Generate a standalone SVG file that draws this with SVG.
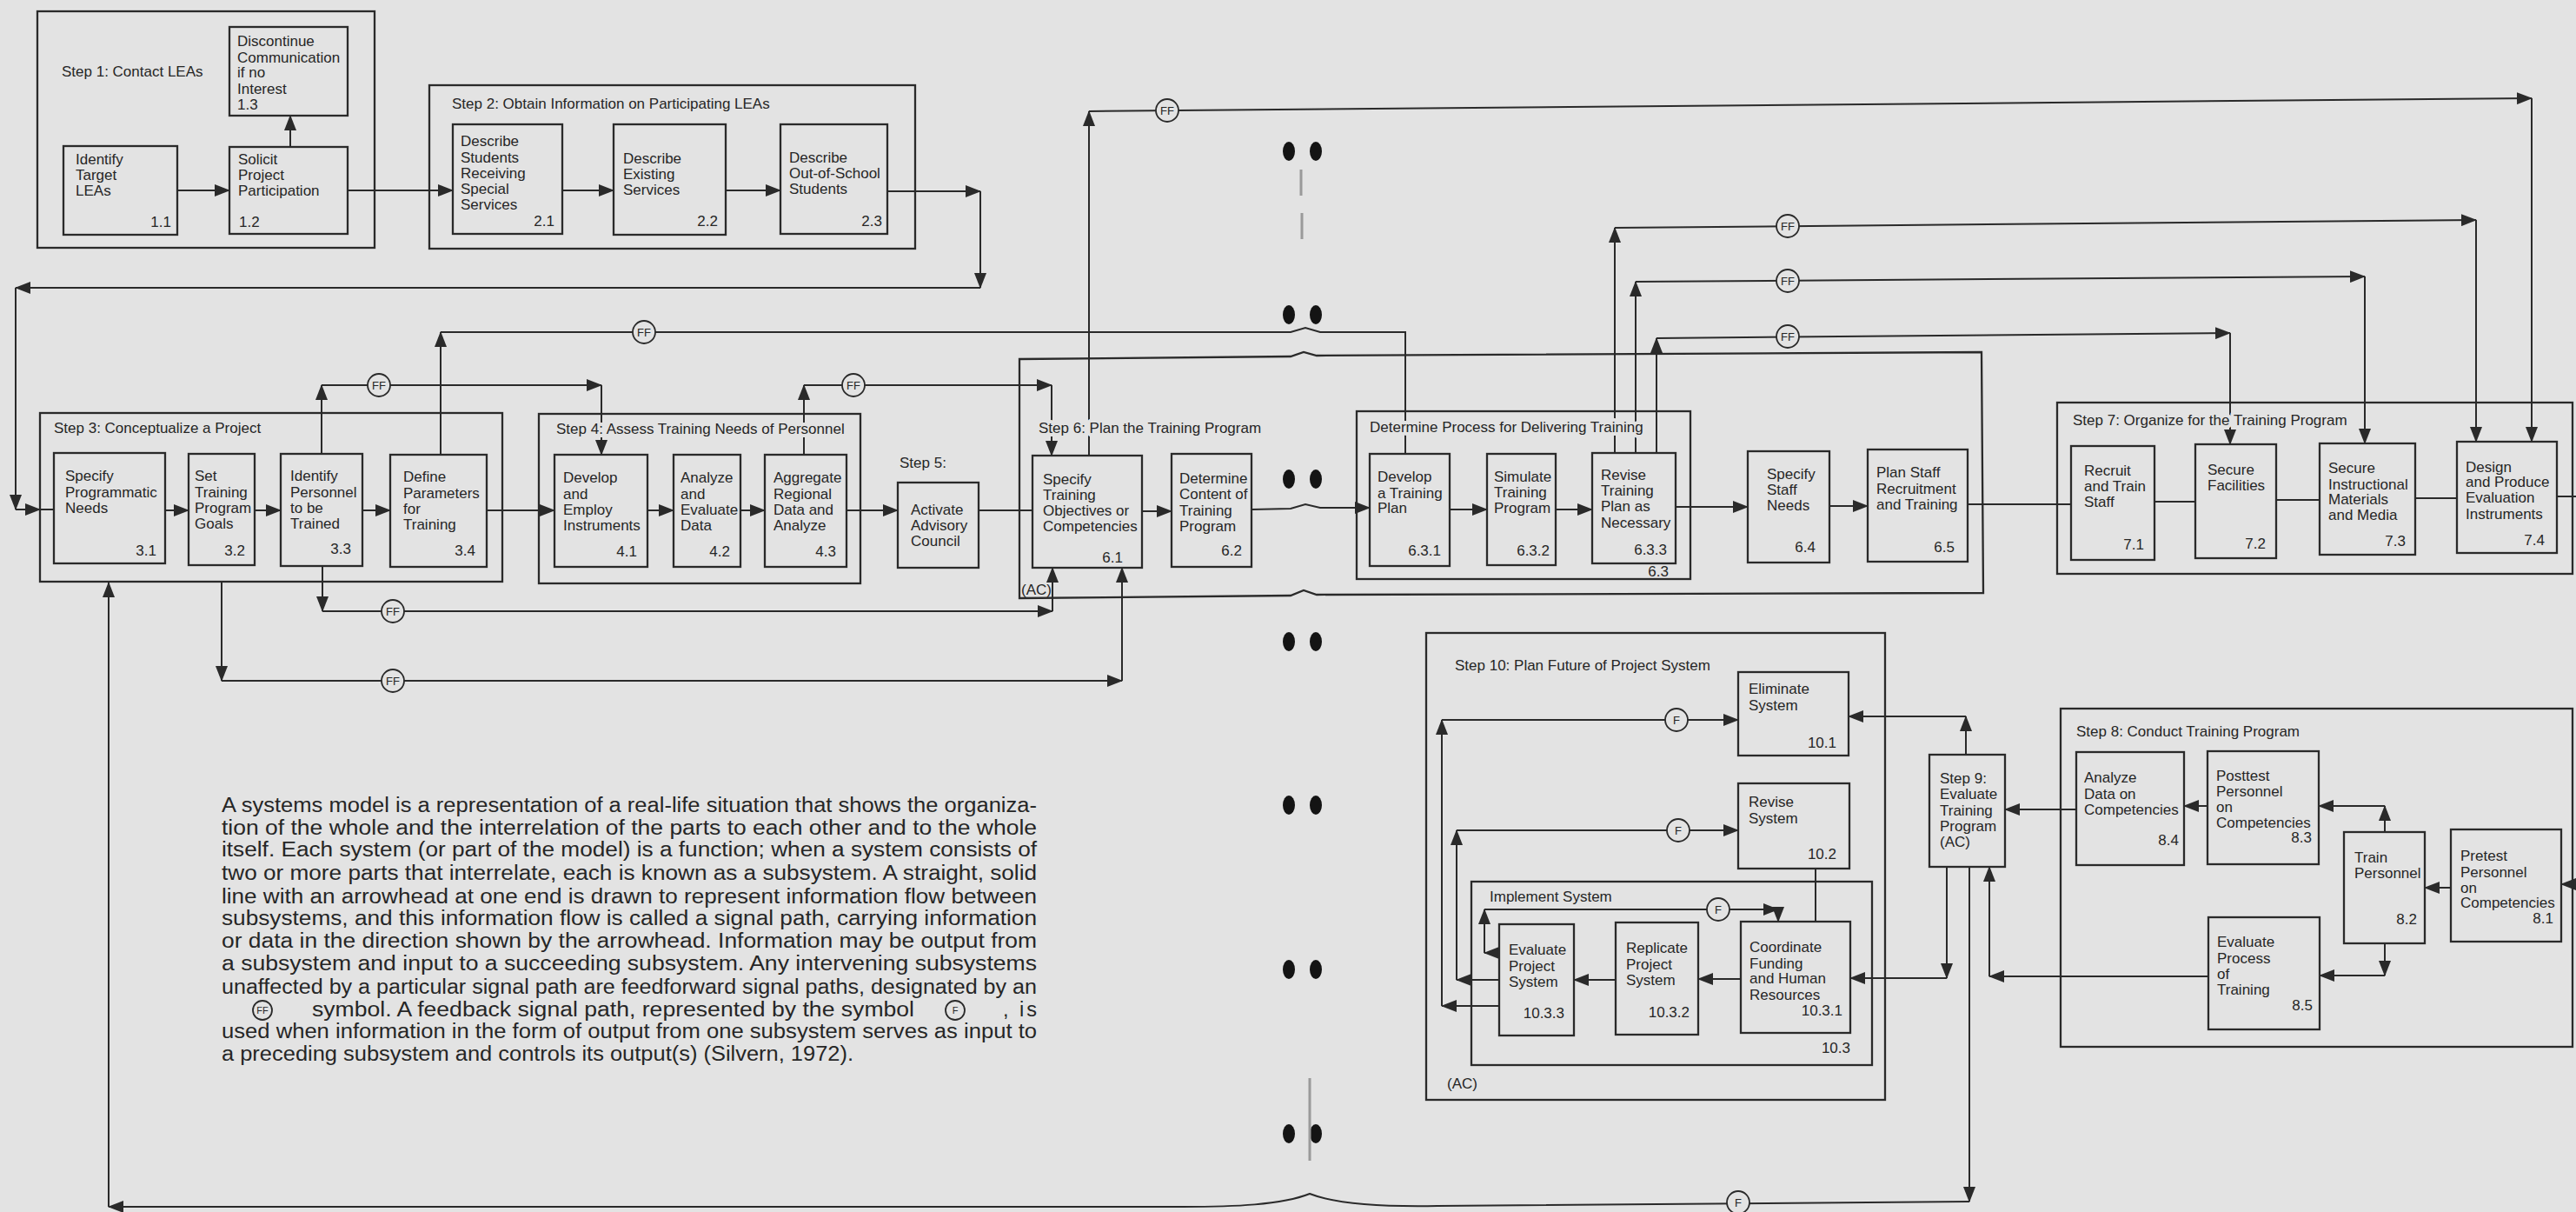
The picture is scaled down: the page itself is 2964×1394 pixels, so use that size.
<svg xmlns="http://www.w3.org/2000/svg" width="2964" height="1394" viewBox="0 0 2964 1394">
<defs>
<style>
text{font-family:"Liberation Sans",Arial,Helvetica,sans-serif;font-size:17px;fill:#262626}
.bx{fill:none;stroke:#2a2a2a;stroke-width:2.3}
.ct{fill:none;stroke:#2a2a2a;stroke-width:2.3}
.ln{fill:none;stroke:#2a2a2a;stroke-width:2}
.ar{marker-end:url(#ah)}
.lbl{paint-order:stroke;stroke:#e3e3e3;stroke-width:8px;stroke-linejoin:round}
.n{text-anchor:end}
.fc{fill:#e3e3e3;stroke:#2a2a2a;stroke-width:1.8}
.ft{font-size:13px;text-anchor:middle}
.p{font-size:23.5px}
.hole{fill:#141414}
.mark{fill:none;stroke:#9a9a9a;stroke-width:3}
</style>
<marker id="ah" markerUnits="userSpaceOnUse" markerWidth="18" markerHeight="14" refX="17" refY="7" orient="auto"><path d="M0,0 L18,7 L0,14 Z" fill="#2a2a2a"/></marker>
</defs>
<rect width="2964" height="1394" fill="#e3e3e3"/>

<g id="binding">
<ellipse class="hole" cx="1483" cy="174" rx="7" ry="11"/><ellipse class="hole" cx="1514" cy="174" rx="7" ry="11"/>
<ellipse class="hole" cx="1483" cy="362" rx="7" ry="11"/><ellipse class="hole" cx="1514" cy="362" rx="7" ry="11"/>
<ellipse class="hole" cx="1483" cy="551" rx="7" ry="11"/><ellipse class="hole" cx="1514" cy="551" rx="7" ry="11"/>
<ellipse class="hole" cx="1483" cy="738" rx="7" ry="11"/><ellipse class="hole" cx="1514" cy="738" rx="7" ry="11"/>
<ellipse class="hole" cx="1483" cy="926" rx="7" ry="11"/><ellipse class="hole" cx="1514" cy="926" rx="7" ry="11"/>
<ellipse class="hole" cx="1483" cy="1115" rx="7" ry="11"/><ellipse class="hole" cx="1514" cy="1115" rx="7" ry="11"/>
<ellipse class="hole" cx="1483" cy="1304" rx="7" ry="11"/><ellipse class="hole" cx="1514" cy="1304" rx="7" ry="11"/>
<path class="mark" d="M1497,195 V225 M1498,245 V275 M1507,1240 V1335"/>
</g>

<g id="connectors">
<path class="ln ar" d="M204,219 H264"/>
<path class="ln ar" d="M334,169 V133"/>
<path class="ln ar" d="M400,219 H521"/>
<path class="ln ar" d="M647,219 H706"/>
<path class="ln ar" d="M835,219 H898"/>
<path class="ln ar" d="M1021,220 H1128"/>
<path class="ln ar" d="M1128,220 V331"/>
<path class="ln ar" d="M1128,331 H18"/>
<path class="ln ar" d="M18,331 V586"/>
<path class="ln ar" d="M18,586 H46"/>
<path class="ln" d="M46,586 H62"/>

<path class="ln ar" d="M190,587 H217"/>
<path class="ln ar" d="M293,587 H323"/>
<path class="ln ar" d="M417,587 H449"/>
<path class="ln ar" d="M560,587 H638"/>
<path class="ln ar" d="M745,587 H775"/>
<path class="ln ar" d="M852,587 H880"/>
<path class="ln ar" d="M974,587 H1033"/>
<path class="ln" d="M1126,587 H1188"/>
<path class="ln ar" d="M1314,588 H1348"/>

<path class="ln ar" d="M370,522 V443"/>
<path class="ln ar" d="M370,443 H692"/>
<path class="ln ar" d="M692,443 V523"/>
<path class="ln ar" d="M507,523 V382"/>
<path class="ln" d="M507,382 L1485,382 L1502,377 L1519,382 L1617,382 V522"/>
<path class="ln ar" d="M925,523 V443"/>
<path class="ln ar" d="M925,443 H1210"/>
<path class="ln ar" d="M1210,443 V524"/>
<path class="ln ar" d="M371,651 V703"/>
<path class="ln ar" d="M371,703 H1211"/>
<path class="ln ar" d="M1211,703 V653"/>
<path class="ln ar" d="M255,669 V783"/>
<path class="ln ar" d="M255,783 H1291"/>
<path class="ln ar" d="M1291,783 V653"/>
<path class="ln ar" d="M1253,524 V128"/>
<path class="ln ar" d="M1253,128 L2913,113"/>
<path class="ln ar" d="M2913,113 V508"/>

<path class="ln ar" d="M1440,586 L1485,585 L1502,580 L1519,584 L1576,584"/>
<path class="ln ar" d="M1668,586 H1711"/>
<path class="ln ar" d="M1790,586 H1832"/>
<path class="ln ar" d="M1928,583 H2011"/>
<path class="ln ar" d="M2105,582 H2149"/>
<path class="ln" d="M2264,580 H2383"/>
<path class="ln" d="M2479,577 H2526 M2619,575 H2669 M2779,573 H2827 M2942,571 H2964"/>

<path class="ln ar" d="M1858,521 V262"/>
<path class="ln ar" d="M1858,262 L2849,253"/>
<path class="ln ar" d="M2849,253 V508"/>
<path class="ln ar" d="M1882,521 V324"/>
<path class="ln ar" d="M1882,324 L2721,318"/>
<path class="ln ar" d="M2721,318 V510"/>
<path class="ln ar" d="M1906,521 V389"/>
<path class="ln ar" d="M1906,389 L2566,383"/>
<path class="ln ar" d="M2566,383 V511"/>

<path class="ln ar" d="M2964,1017 H2947"/>
<path class="ln ar" d="M2820,1021 H2790"/>
<path class="ln ar" d="M2744,957 V927"/>
<path class="ln ar" d="M2744,927 H2668"/>
<path class="ln ar" d="M2744,1085 V1122"/>
<path class="ln ar" d="M2744,1122 H2669"/>
<path class="ln ar" d="M2540,927 H2513"/>
<path class="ln ar" d="M2389,931 H2307"/>
<path class="ln ar" d="M2541,1123 H2289"/>
<path class="ln ar" d="M2289,1123 V997"/>
<path class="ln ar" d="M2262,868 V824"/>
<path class="ln ar" d="M2262,824 H2127"/>
<path class="ln ar" d="M2240,997 V1125"/>
<path class="ln ar" d="M2240,1125 H2129"/>
<path class="ln ar" d="M2266,997 V1382"/>
<path class="ln ar" d="M2266,1382 L1654,1387 C1600,1388 1540,1386 1507,1373 C1474,1386 1420,1388 1361,1388 L125,1388"/>
<path class="ln ar" d="M125,1388 V670"/>

<path class="ln ar" d="M2003,1126 H1954"/>
<path class="ln ar" d="M1859,1127 H1811"/>
<path class="ln ar" d="M1725,1127 H1676"/>
<path class="ln ar" d="M1676,1127 V955"/>
<path class="ln ar" d="M1676,955 H2000"/>
<path class="ln ar" d="M1725,1157 H1659"/>
<path class="ln ar" d="M1659,1157 V828"/>
<path class="ln ar" d="M1659,828 H2000"/>
<path class="ln ar" d="M1725,1096 H1708"/>
<path class="ln ar" d="M1708,1096 V1046"/>
<path class="ln ar" d="M1708,1046 H2046"/>
<path class="ln ar" d="M2046,1046 V1060"/>
<path class="ln" d="M2089,999 V1060"/>

<g id="ff-symbols">
<circle class="fc" cx="436" cy="443" r="13"/><text class="ft" x="436" y="448">FF</text>
<circle class="fc" cx="741" cy="382" r="13"/><text class="ft" x="741" y="387">FF</text>
<circle class="fc" cx="982" cy="443" r="13"/><text class="ft" x="982" y="448">FF</text>
<circle class="fc" cx="452" cy="703" r="13"/><text class="ft" x="452" y="708">FF</text>
<circle class="fc" cx="452" cy="783" r="13"/><text class="ft" x="452" y="788">FF</text>
<circle class="fc" cx="1343" cy="127" r="13"/><text class="ft" x="1343" y="132">FF</text>
<circle class="fc" cx="2057" cy="260" r="13"/><text class="ft" x="2057" y="265">FF</text>
<circle class="fc" cx="2057" cy="323" r="13"/><text class="ft" x="2057" y="328">FF</text>
<circle class="fc" cx="2057" cy="387" r="13"/><text class="ft" x="2057" y="392">FF</text>
<circle class="fc" cx="1929" cy="828" r="13"/><text class="ft" x="1929" y="833">F</text>
<circle class="fc" cx="1931" cy="955" r="13"/><text class="ft" x="1931" y="960">F</text>
<circle class="fc" cx="1977" cy="1046" r="13"/><text class="ft" x="1977" y="1051">F</text>
<circle class="fc" cx="2000" cy="1383" r="13"/><text class="ft" x="2000" y="1388">F</text>
</g>
</g>

<g id="step1">
<rect class="ct" x="43" y="13" width="388" height="272"/>
<text class="lbl" x="71" y="88">Step 1:  Contact LEAs</text>
</g>
<g id="n1-1"><rect class="bx" x="73" y="168" width="131" height="102"/>
<text x="87" y="189">Identify</text><text x="87" y="207">Target</text><text x="87" y="225">LEAs</text><text class="n" x="197" y="261">1.1</text></g>
<g id="n1-2"><rect class="bx" x="264" y="169" width="136" height="100"/>
<text x="274" y="189">Solicit</text><text x="274" y="207">Project</text><text x="274" y="225">Participation</text><text x="275" y="261">1.2</text></g>
<g id="n1-3"><rect class="bx" x="264" y="31" width="136" height="102"/>
<text x="273" y="53">Discontinue</text><text x="273" y="72">Communication</text><text x="273" y="89">if no</text><text x="273" y="108">Interest</text><text x="273" y="126">1.3</text></g>

<g id="step2">
<rect class="ct" x="494" y="98" width="559" height="188"/>
<text class="lbl" x="520" y="125">Step 2:  Obtain Information on Participating LEAs</text>
</g>
<g id="n2-1"><rect class="bx" x="521" y="143" width="126" height="126"/>
<text x="530" y="168">Describe</text><text x="530" y="187">Students</text><text x="530" y="205">Receiving</text><text x="530" y="223">Special</text><text x="530" y="241">Services</text><text class="n" x="638" y="260">2.1</text></g>
<g id="n2-2"><rect class="bx" x="706" y="143" width="129" height="127"/>
<text x="717" y="188">Describe</text><text x="717" y="206">Existing</text><text x="717" y="224">Services</text><text class="n" x="826" y="260">2.2</text></g>
<g id="n2-3"><rect class="bx" x="898" y="143" width="123" height="126"/>
<text x="908" y="187">Describe</text><text x="908" y="205">Out-of-School</text><text x="908" y="223">Students</text><text class="n" x="1015" y="260">2.3</text></g>

<g id="step3">
<rect class="ct" x="46" y="475" width="532" height="194"/>
<text class="lbl" x="62" y="498">Step 3:  Conceptualize a Project</text>
</g>
<g id="n3-1"><rect class="bx" x="62" y="521" width="128" height="127"/>
<text x="75" y="553">Specify</text><text x="75" y="572">Programmatic</text><text x="75" y="590">Needs</text><text class="n" x="180" y="639">3.1</text></g>
<g id="n3-2"><rect class="bx" x="217" y="522" width="76" height="128"/>
<text x="224" y="553">Set</text><text x="224" y="572">Training</text><text x="224" y="590">Program</text><text x="224" y="608">Goals</text><text class="n" x="282" y="639">3.2</text></g>
<g id="n3-3"><rect class="bx" x="323" y="522" width="94" height="129"/>
<text x="334" y="553">Identify</text><text x="334" y="572">Personnel</text><text x="334" y="590">to be</text><text x="334" y="608">Trained</text><text class="n" x="404" y="637">3.3</text></g>
<g id="n3-4"><rect class="bx" x="449" y="523" width="111" height="129"/>
<text x="464" y="554">Define</text><text x="464" y="573">Parameters</text><text x="464" y="591">for</text><text x="464" y="609">Training</text><text class="n" x="547" y="639">3.4</text></g>

<g id="step4">
<rect class="ct" x="620" y="476" width="370" height="195"/>
<text class="lbl" x="640" y="499">Step 4:  Assess Training Needs of Personnel</text>
</g>
<g id="n4-1"><rect class="bx" x="638" y="523" width="107" height="129"/>
<text x="648" y="555">Develop</text><text x="648" y="574">and</text><text x="648" y="592">Employ</text><text x="648" y="610">Instruments</text><text class="n" x="733" y="640">4.1</text></g>
<g id="n4-2"><rect class="bx" x="775" y="523" width="77" height="129"/>
<text x="783" y="555">Analyze</text><text x="783" y="574">and</text><text x="783" y="592">Evaluate</text><text x="783" y="610">Data</text><text class="n" x="840" y="640">4.2</text></g>
<g id="n4-3"><rect class="bx" x="880" y="523" width="94" height="129"/>
<text x="890" y="555">Aggregate</text><text x="890" y="574">Regional</text><text x="890" y="592">Data and</text><text x="890" y="610">Analyze</text><text class="n" x="962" y="640">4.3</text></g>

<g id="step5">
<text class="lbl" x="1035" y="538">Step 5:</text>
<rect class="bx" x="1033" y="555" width="93" height="98"/>
<text x="1048" y="592">Activate</text><text x="1048" y="610">Advisory</text><text x="1048" y="628">Council</text>
</g>

<g id="step6">
<path class="ct" d="M1173,413 L1485,410 L1500,405 L1515,409 L2280,405 L2282,682 L1515,684 L1500,679 L1485,685 L1173,688 Z"/>
<text class="lbl" x="1195" y="498">Step 6:  Plan the Training Program</text>
<text x="1175" y="684">(AC)</text>
</g>
<g id="n6-1"><rect class="bx" x="1188" y="524" width="126" height="129"/>
<text x="1200" y="557">Specify</text><text x="1200" y="575">Training</text><text x="1200" y="593">Objectives or</text><text x="1200" y="611">Competencies</text><text class="n" x="1292" y="647">6.1</text></g>
<g id="n6-2"><rect class="bx" x="1348" y="522" width="92" height="130"/>
<text x="1357" y="556">Determine</text><text x="1357" y="574">Content of</text><text x="1357" y="593">Training</text><text x="1357" y="611">Program</text><text class="n" x="1429" y="639">6.2</text></g>
<g id="n6-3">
<rect class="ct" x="1561" y="473" width="384" height="193"/>
<text class="lbl" x="1576" y="497">Determine Process for Delivering Training</text>
<text class="n" x="1920" y="663">6.3</text>
</g>
<g id="n6-3-1"><rect class="bx" x="1576" y="522" width="92" height="129"/>
<text x="1585" y="554">Develop</text><text x="1585" y="573">a Training</text><text x="1585" y="590">Plan</text><text class="n" x="1658" y="639">6.3.1</text></g>
<g id="n6-3-2"><rect class="bx" x="1711" y="522" width="79" height="128"/>
<text x="1719" y="554">Simulate</text><text x="1719" y="572">Training</text><text x="1719" y="590">Program</text><text class="n" x="1783" y="639">6.3.2</text></g>
<g id="n6-3-3"><rect class="bx" x="1832" y="521" width="96" height="127"/>
<text x="1842" y="552">Revise</text><text x="1842" y="570">Training</text><text x="1842" y="588">Plan as</text><text x="1842" y="607">Necessary</text><text class="n" x="1918" y="638">6.3.3</text></g>
<g id="n6-4"><rect class="bx" x="2011" y="519" width="94" height="128"/>
<text x="2033" y="551">Specify</text><text x="2033" y="569">Staff</text><text x="2033" y="587">Needs</text><text class="n" x="2089" y="635">6.4</text></g>
<g id="n6-5"><rect class="bx" x="2149" y="517" width="115" height="129"/>
<text x="2159" y="549">Plan Staff</text><text x="2159" y="568">Recruitment</text><text x="2159" y="586">and Training</text><text class="n" x="2249" y="635">6.5</text></g>

<g id="step7">
<rect class="ct" x="2367" y="463" width="593" height="197"/>
<text class="lbl" x="2385" y="489">Step 7:  Organize for the Training Program</text>
</g>
<g id="n7-1"><rect class="bx" x="2383" y="513" width="96" height="131"/>
<text x="2398" y="547">Recruit</text><text x="2398" y="565">and Train</text><text x="2398" y="583">Staff</text><text class="n" x="2467" y="632">7.1</text></g>
<g id="n7-2"><rect class="bx" x="2526" y="511" width="93" height="131"/>
<text x="2540" y="546">Secure</text><text x="2540" y="564">Facilities</text><text class="n" x="2607" y="631">7.2</text></g>
<g id="n7-3"><rect class="bx" x="2669" y="510" width="110" height="128"/>
<text x="2679" y="544">Secure</text><text x="2679" y="563">Instructional</text><text x="2679" y="580">Materials</text><text x="2679" y="598">and Media</text><text class="n" x="2768" y="628">7.3</text></g>
<g id="n7-4"><rect class="bx" x="2827" y="508" width="115" height="128"/>
<text x="2837" y="543">Design</text><text x="2837" y="560">and Produce</text><text x="2837" y="578">Evaluation</text><text x="2837" y="597">Instruments</text><text class="n" x="2928" y="627">7.4</text></g>

<g id="step8">
<rect class="ct" x="2371" y="815" width="589" height="389"/>
<text class="lbl" x="2389" y="847">Step 8:  Conduct Training Program</text>
</g>
<g id="n8-1"><rect class="bx" x="2820" y="954" width="127" height="129"/>
<text x="2831" y="990">Pretest</text><text x="2831" y="1009">Personnel</text><text x="2831" y="1027">on</text><text x="2831" y="1044">Competencies</text><text class="n" x="2938" y="1062">8.1</text></g>
<g id="n8-2"><rect class="bx" x="2697" y="957" width="93" height="128"/>
<text x="2709" y="992">Train</text><text x="2709" y="1010">Personnel</text><text class="n" x="2781" y="1063">8.2</text></g>
<g id="n8-3"><rect class="bx" x="2540" y="864" width="128" height="130"/>
<text x="2550" y="898">Posttest</text><text x="2550" y="916">Personnel</text><text x="2550" y="934">on</text><text x="2550" y="952">Competencies</text><text class="n" x="2660" y="969">8.3</text></g>
<g id="n8-4"><rect class="bx" x="2389" y="865" width="124" height="130"/>
<text x="2398" y="900">Analyze</text><text x="2398" y="919">Data on</text><text x="2398" y="937">Competencies</text><text class="n" x="2507" y="972">8.4</text></g>
<g id="n8-5"><rect class="bx" x="2541" y="1055" width="128" height="129"/>
<text x="2551" y="1089">Evaluate</text><text x="2551" y="1108">Process</text><text x="2551" y="1126">of</text><text x="2551" y="1144">Training</text><text class="n" x="2661" y="1162">8.5</text></g>

<g id="step9"><rect class="bx" x="2220" y="868" width="87" height="129"/>
<text x="2232" y="901">Step 9:</text><text x="2232" y="919">Evaluate</text><text x="2232" y="938">Training</text><text x="2232" y="956">Program</text><text x="2232" y="974">(AC)</text></g>

<g id="step10">
<rect class="ct" x="1641" y="728" width="528" height="537"/>
<text class="lbl" x="1674" y="771">Step 10:  Plan Future of Project System</text>
<text x="1665" y="1252">(AC)</text>
</g>
<g id="n10-1"><rect class="bx" x="2000" y="773" width="127" height="96"/>
<text x="2012" y="798">Eliminate</text><text x="2012" y="817">System</text><text class="n" x="2113" y="860">10.1</text></g>
<g id="n10-2"><rect class="bx" x="2000" y="901" width="128" height="98"/>
<text x="2012" y="928">Revise</text><text x="2012" y="947">System</text><text class="n" x="2113" y="988">10.2</text></g>
<g id="n10-3">
<rect class="ct" x="1693" y="1014" width="461" height="211"/>
<text class="lbl" x="1714" y="1037">Implement System</text>
<text class="n" x="2129" y="1211">10.3</text>
</g>
<g id="n10-3-1"><rect class="bx" x="2003" y="1060" width="126" height="128"/>
<text x="2013" y="1095">Coordinate</text><text x="2013" y="1114">Funding</text><text x="2013" y="1131">and Human</text><text x="2013" y="1150">Resources</text><text class="n" x="2120" y="1168">10.3.1</text></g>
<g id="n10-3-2"><rect class="bx" x="1859" y="1061" width="95" height="129"/>
<text x="1871" y="1096">Replicate</text><text x="1871" y="1115">Project</text><text x="1871" y="1133">System</text><text class="n" x="1944" y="1170">10.3.2</text></g>
<g id="n10-3-3"><rect class="bx" x="1725" y="1063" width="86" height="128"/>
<text x="1736" y="1098">Evaluate</text><text x="1736" y="1117">Project</text><text x="1736" y="1135">System</text><text class="n" x="1800" y="1171">10.3.3</text></g>

<g id="caption">
<text class="p" x="255" y="934" textLength="938" lengthAdjust="spacingAndGlyphs">A systems model is a representation of a real-life situation that shows the organiza-</text>
<text class="p" x="255" y="960" textLength="938" lengthAdjust="spacingAndGlyphs">tion of the whole and the interrelation of the parts to each other and to the whole</text>
<text class="p" x="255" y="985" textLength="938" lengthAdjust="spacingAndGlyphs">itself. Each system (or part of the model) is a function; when a system consists of</text>
<text class="p" x="255" y="1012" textLength="938" lengthAdjust="spacingAndGlyphs">two or more parts that interrelate, each is known as a subsystem. A straight, solid</text>
<text class="p" x="255" y="1039" textLength="938" lengthAdjust="spacingAndGlyphs">line with an arrowhead at one end is drawn to represent information flow between</text>
<text class="p" x="255" y="1064" textLength="938" lengthAdjust="spacingAndGlyphs">subsystems, and this information flow is called a signal path, carrying information</text>
<text class="p" x="255" y="1090" textLength="938" lengthAdjust="spacingAndGlyphs">or data in the direction shown by the arrowhead. Information may be output from</text>
<text class="p" x="255" y="1116" textLength="938" lengthAdjust="spacingAndGlyphs">a subsystem and input to a succeeding subsystem. Any intervening subsystems</text>
<text class="p" x="255" y="1143" textLength="938" lengthAdjust="spacingAndGlyphs">unaffected by a particular signal path are feedforward signal paths, designated by an</text>
<circle class="fc" cx="302" cy="1162" r="11"/><text class="ft" x="302" y="1166" style="font-size:11px">FF</text>
<text class="p" x="359" y="1169" textLength="693" lengthAdjust="spacingAndGlyphs">symbol. A feedback signal path, represented by the symbol</text>
<circle class="fc" cx="1099" cy="1162" r="11"/><text class="ft" x="1099" y="1166" style="font-size:11px">F</text>
<text class="p" x="1154" y="1169" textLength="39" lengthAdjust="spacing">, is</text>
<text class="p" x="255" y="1194" textLength="938" lengthAdjust="spacingAndGlyphs">used when information in the form of output from one subsystem serves as input to</text>
<text class="p" x="255" y="1220" textLength="727" lengthAdjust="spacingAndGlyphs">a preceding subsystem and controls its output(s) (Silvern, 1972).</text>
</g>
</svg>
